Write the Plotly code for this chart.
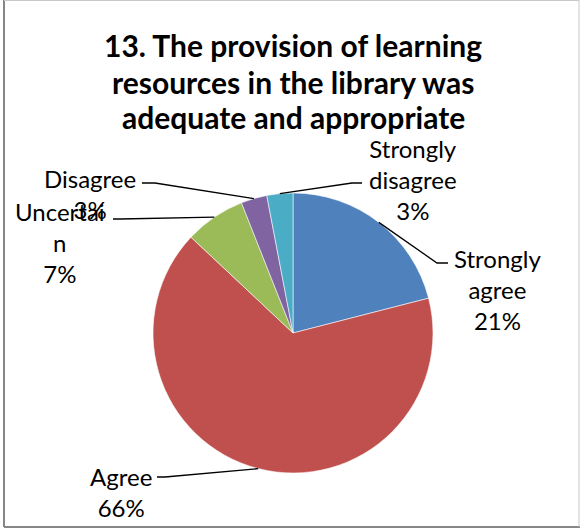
import math
import plotly.graph_objects as go

# ---- data ----
categories = ["Strongly agree", "Agree", "Uncertain", "Disagree", "Strongly disagree"]
values = [21, 66, 7, 3, 3]
label_lines = [["Strongly", "agree"], ["Agree"], ["Uncertai", "n"], ["Disagree"], ["Strongly", "disagree"]]
colors = ["#4F81BD", "#C0504D", "#9BBB59", "#8064A2", "#4BACC6"]
title_lines = ["13. The provision of learning", "resources in the library was", "adequate and appropriate"]

# ---- layout geometry (pixels) ----
W, H = 581, 529
CX, CY, R = 293, 333, 140
FONT = "Lato"
LABEL_FS = 24
TITLE_FS = 30
title_y = [45, 82, 117]

# label placement: (x center, y middle) and leader elbow / end
label_pos = [(497, 289), (121, 492), (60, 243), (90, 194), (413, 179)]
elbows = [((437, 263), (448, 263)), ((165, 477), (157, 477)), ((120, 219), (113, 219)),
          ((155, 183), (142, 183)), ((352, 183), (362, 183))]


def px(x):
    return x / W


def py(y):
    return 1 - y / H


fig = go.Figure(go.Pie(
    labels=categories,
    values=values,
    sort=False,
    direction="clockwise",
    rotation=0,
    marker=dict(colors=colors, line=dict(color="rgba(255,255,255,0.7)", width=0.8)),
    textinfo="none",
    hoverinfo="label+percent",
    showlegend=False,
    domain=dict(x=[px(CX - R), px(CX + R)], y=[py(CY + R), py(CY - R)]),
))

total = sum(values)
annotations = []
shapes = []
cum = 0
for i, v in enumerate(values):
    mid = (cum + v / 2) / total * 2 * math.pi
    cum += v
    ex = CX + R * math.sin(mid)
    ey = CY - R * math.cos(mid)
    pct = round(v / total * 100)
    text = "<br>".join(label_lines[i] + [f"{pct}%"])
    lx, ly = label_pos[i]
    annotations.append(dict(
        x=px(lx), y=py(ly), xref="paper", yref="paper", text=text, showarrow=False,
        xanchor="center", yanchor="middle", align="center",
        font=dict(family=FONT, size=LABEL_FS, color="#000000"),
    ))
    (bx, by), (tx, ty) = elbows[i]
    shapes.append(dict(
        type="path", xref="paper", yref="paper",
        path=f"M {px(ex)} {py(ey)} L {px(bx)} {py(by)} L {px(tx)} {py(ty)}",
        line=dict(color="#000000", width=1.3),
    ))

for line, ty in zip(title_lines, title_y):
    annotations.append(dict(
        x=px(CX), y=py(ty), xref="paper", yref="paper", text=line,
        showarrow=False, xanchor="center", yanchor="middle", align="center",
        font=dict(family=FONT, size=TITLE_FS, color="#000000", weight="bold"),
    ))

# chart border
shapes += [
    dict(type="line", xref="paper", yref="paper", x0=px(4), x1=px(4), y0=py(0), y1=py(527),
         line=dict(color="#868686", width=2)),
    dict(type="line", xref="paper", yref="paper", x0=px(4), x1=px(580), y0=py(527), y1=py(527),
         line=dict(color="#868686", width=2)),
    dict(type="line", xref="paper", yref="paper", x0=px(579), x1=px(579), y0=py(0), y1=py(527),
         line=dict(color="#c8c8c8", width=1)),
    dict(type="line", xref="paper", yref="paper", x0=px(4), x1=px(579), y0=py(0.5), y1=py(0.5),
         line=dict(color="#c8c8c8", width=1)),
]

fig.update_layout(
    width=W, height=H,
    margin=dict(l=0, r=0, t=0, b=0),
    paper_bgcolor="white", plot_bgcolor="white",
    annotations=annotations, shapes=shapes,
    font=dict(family=FONT),
)

fig.write_html("out.html", config={"displayModeBar": False},
               post_script="document.body.style.margin='0';")
